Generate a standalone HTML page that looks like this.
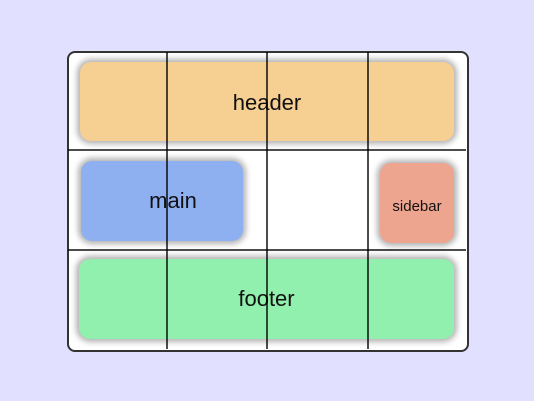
<!DOCTYPE html>
<html><head><style>
body{margin:0;width:534px;height:401px;background:#e1e1ff;position:relative;overflow:hidden;font-family:"Liberation Sans",sans-serif}
.c{position:absolute;left:67px;top:51px;width:398px;height:297px;border:2px solid #333;border-radius:8px;background:#fff}
.b{position:absolute;border-radius:11px;box-shadow:0 0 6px 3px rgba(0,0,0,0.3);display:flex;align-items:center;justify-content:center;color:#111}
.l{position:absolute;background:rgba(0,0,0,0.7)}
</style></head><body>
<div class="c"></div>
<div class="b" style="left:80px;top:62px;width:374px;height:79px;background:#f6cf93;font-size:22px;padding-top:2px;box-sizing:border-box">header</div>
<div class="b" style="left:81px;top:161px;width:162px;height:80px;background:#8fb0f0;font-size:22px;padding-left:22px;box-sizing:border-box">main</div>
<div class="b" style="left:380px;top:163px;width:74px;height:80px;background:#eea58f;font-size:15px;padding-top:6px;box-sizing:border-box">sidebar</div>
<div class="b" style="left:79px;top:259px;width:375px;height:80px;background:#92f0ae;font-size:22px">footer</div>
<div class="l" style="left:166px;top:52px;width:2px;height:297px"></div>
<div class="l" style="left:266px;top:52px;width:2px;height:297px"></div>
<div class="l" style="left:367px;top:52px;width:2px;height:297px"></div>
<div class="l" style="left:68px;top:149px;width:398px;height:2px"></div>
<div class="l" style="left:68px;top:249px;width:398px;height:2px"></div>
</body></html>
